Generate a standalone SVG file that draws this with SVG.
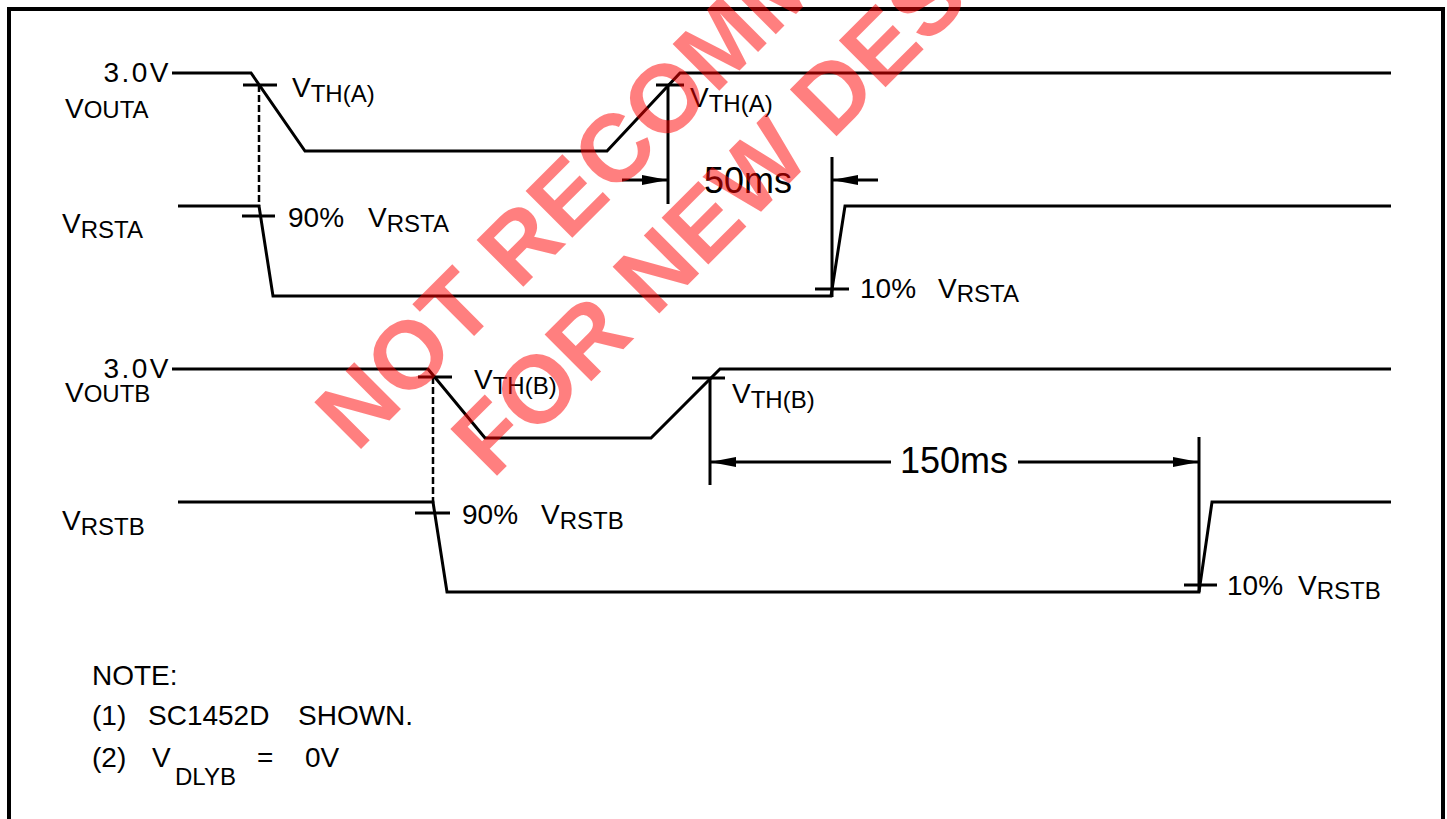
<svg xmlns="http://www.w3.org/2000/svg" width="1447" height="819" viewBox="0 0 1447 819">
<style>
.w{fill:none;stroke:#000;stroke-width:3;stroke-linejoin:miter}
.d{fill:none;stroke:#000;stroke-width:2.5;stroke-dasharray:7 3}
.t{font-family:"Liberation Sans",Arial,sans-serif;font-size:28px;fill:#000}
.s{font-size:24px}
.m{font-size:36px}
.v{letter-spacing:2.5px}
.wm{font-family:"Liberation Sans",Arial,sans-serif;font-weight:bold;font-size:96px;fill:#ff0000;fill-opacity:0.5}
</style>
<defs>
<marker id="ah" viewBox="0 0 26 10" refX="26" refY="5" markerWidth="26" markerHeight="10" markerUnits="userSpaceOnUse" orient="auto"><path d="M0,0 L26,5 L0,10 z" fill="#000"/></marker>
</defs>
<rect width="1447" height="819" fill="#fff"/>
<path id="border" d="M9,830 V9 H1443 V830" fill="none" stroke="#000" stroke-width="4"/>
<g id="waveforms" class="w">
<path id="voutA" d="M172,73 H251 L305,151 H607 L680,73 H1391"/>
<path id="vrstA" d="M178,206 H259 L273,296 H831 L845,206 H1391"/>
<path id="voutB" d="M172,369 H428 L485,438 H651 L720,369 H1391"/>
<path id="vrstB" d="M178,502 H433 L447,592 H1199 L1212,502 H1391"/>
</g>
<g id="ticks" class="w">
<path d="M243,85 H277"/>
<path d="M242,216 H275"/>
<path d="M656,85 H684"/>
<path d="M815,289 H849"/>
<path d="M418,377 H452"/>
<path d="M415,513 H450"/>
<path d="M692,378 H725"/>
<path d="M1184,585 H1217"/>
</g>
<g id="connectors">
<path class="d" d="M259,85 V206"/>
<path class="d" d="M433,377 V503"/>
<g class="w">
<path d="M668,85 V204"/>
<path d="M832,157 V297"/>
<path d="M710,378 V485"/>
<path d="M1199,437 V592"/>
<path d="M622,180 H668" marker-end="url(#ah)"/>
<path d="M878,180 H832" marker-end="url(#ah)"/>
<path d="M891,462 H710" marker-end="url(#ah)"/>
<path d="M1018,462 H1199" marker-end="url(#ah)"/>
</g>
</g>
<g id="labels" class="t">
<text class="v" x="171" y="82" text-anchor="end">3.0V</text>
<text x="65" y="118">V<tspan class="s">OUTA</tspan></text>
<text x="292" y="97">V<tspan class="s" dy="5">TH(A)</tspan></text>
<text x="62" y="233">V<tspan class="s" dy="5">RSTA</tspan></text>
<text x="288" y="227">90%<tspan x="368">V</tspan><tspan class="s" dy="5">RSTA</tspan></text>
<text x="690" y="107">V<tspan class="s" dy="5">TH(A)</tspan></text>
<text class="m" x="704" y="193">50ms</text>
<text x="860" y="298">10%<tspan x="938">V</tspan><tspan class="s" dy="4">RSTA</tspan></text>
<text class="v" x="171" y="378" text-anchor="end">3.0V</text>
<text x="65" y="402">V<tspan class="s">OUTB</tspan></text>
<text x="474" y="389">V<tspan class="s" dy="5">TH(B)</tspan></text>
<text x="62" y="530">V<tspan class="s" dy="5">RSTB</tspan></text>
<text x="462" y="524">90%<tspan x="541">V</tspan><tspan class="s" dy="5">RSTB</tspan></text>
<text x="732" y="403">V<tspan class="s" dy="5">TH(B)</tspan></text>
<text class="m" x="954" y="473" text-anchor="middle">150ms</text>
<text x="1227" y="595">10%<tspan x="1298">V</tspan><tspan class="s" dy="4">RSTB</tspan></text>
</g>
<g id="notes" class="t">
<text x="92" y="685">NOTE:</text>
<text x="92" y="725">(1)<tspan x="148">SC1452D</tspan><tspan x="298">SHOWN.</tspan></text>
<text x="92" y="767">(2)<tspan x="152">V</tspan><tspan x="175" dy="18" class="s">DLYB</tspan><tspan x="257" dy="-18">=</tspan><tspan x="305">0V</tspan></text>
</g>
<g id="watermark" class="wm" transform="translate(711,99) rotate(-45)">
<text x="0" y="0" text-anchor="middle">NOT RECOMMENDED</text>
<text x="0" y="115" text-anchor="middle">FOR NEW DESIGN</text>
</g>
</svg>
